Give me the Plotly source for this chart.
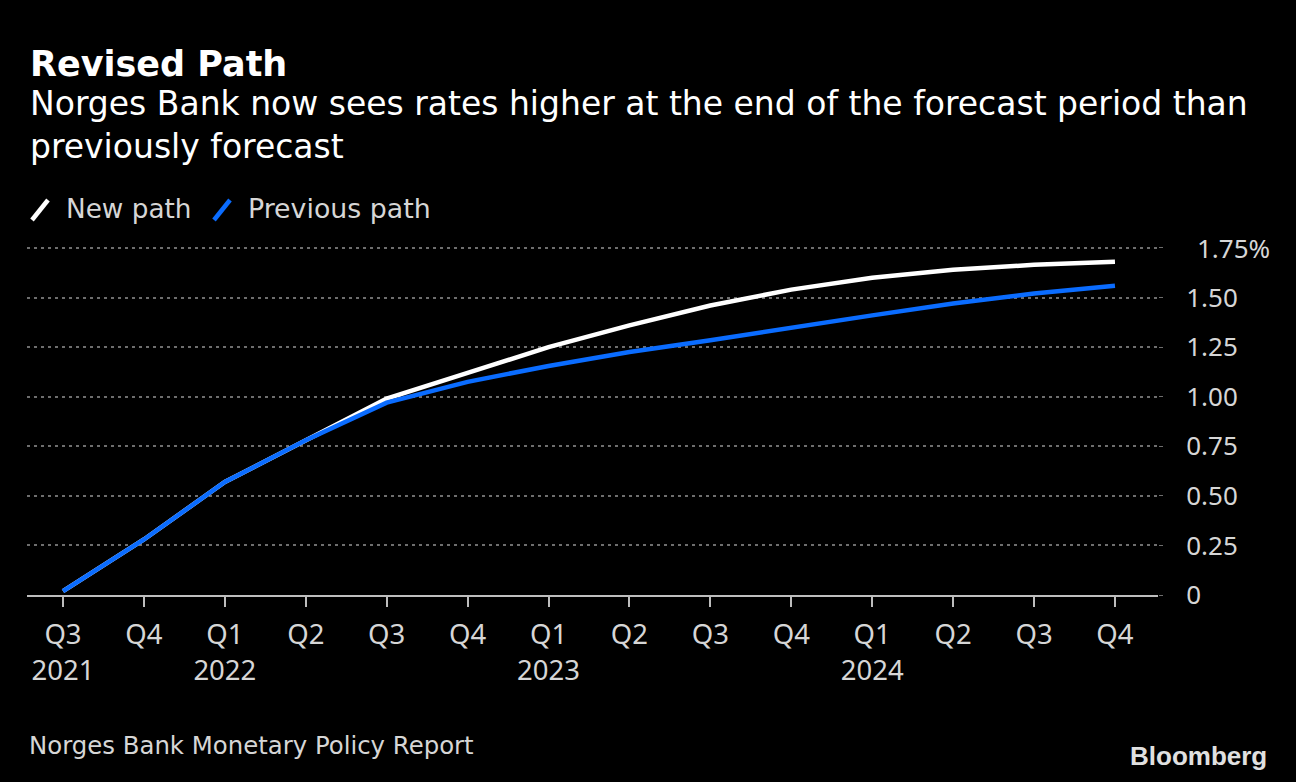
import plotly.graph_objects as go

quarters = ["Q3", "Q4", "Q1", "Q2", "Q3", "Q4", "Q1", "Q2", "Q3", "Q4", "Q1", "Q2", "Q3", "Q4"]
years = ["2021", "", "2022", "", "", "", "2023", "", "", "", "2024", "", "", ""]
new_path = [0.02, 0.28, 0.57, 0.78, 0.99, 1.12, 1.25, 1.36, 1.46, 1.54, 1.60, 1.64, 1.665, 1.68]
previous_path = [0.02, 0.28, 0.57, 0.78, 0.97, 1.075, 1.155, 1.225, 1.285, 1.35, 1.41, 1.47, 1.52, 1.56]
y_ticks = [0, 0.25, 0.5, 0.75, 1.0, 1.25, 1.5, 1.75]
y_ticktext = ["0", "0.25", "0.50", "0.75", "1.00", "1.25", "1.50", ""]

W, H = 1296, 782
L, R, T, B = 27, 1158, 240, 595
FONT = "Noto Sans"
TFONT = "DejaVu Sans"
WHITE = "#ffffff"
BLUE = "#0a6cff"
GREY_TXT = "#d6d6d6"

idx = list(range(len(quarters)))
ticktext = [q + ("<br>" + y if y else "<br> ") for q, y in zip(quarters, years)]

def px(x):
    return (x - L) / (R - L)

def py(y):
    return (B - y) / (B - T)

fig = go.Figure()
fig.add_trace(go.Scatter(x=idx, y=new_path, mode="lines", name="New path",
                         line=dict(color=WHITE, width=4.5), showlegend=False, hoverinfo="skip"))
fig.add_trace(go.Scatter(x=idx, y=previous_path, mode="lines", name="Previous path",
                         line=dict(color=BLUE, width=4.5), showlegend=False, hoverinfo="skip"))

fig.update_layout(
    width=W, height=H,
    margin=dict(l=L, r=W - R, t=T, b=H - B, pad=0),
    paper_bgcolor="#000000", plot_bgcolor="#000000",
    font=dict(family=FONT, color=GREY_TXT, size=26),
    xaxis=dict(range=[(L - 63) / 80.92, (R - 63) / 80.92], tickvals=idx, ticktext=ticktext,
               showgrid=False, zeroline=False, showline=True, linecolor="#bdbdbd", linewidth=2,
               ticks="outside", ticklen=10, tickwidth=2, tickcolor="#bdbdbd",
               ticklabelstandoff=4,
               tickfont=dict(family=FONT, size=27.5, color=GREY_TXT), fixedrange=True),
    yaxis=dict(range=[0, (B - T) / 198.3], side="right", tickvals=y_ticks, ticktext=y_ticktext,
               showgrid=True, gridcolor="#6e6e6e", gridwidth=2, griddash="3px,4px",
               zeroline=False, showline=False, ticks="outside", ticklen=4, tickcolor="#6e6e6e",
               ticklabelstandoff=18,
               tickfont=dict(family=FONT, size=26, color=GREY_TXT), fixedrange=True),
)

ann = []
ann.append(dict(text="<b>Revised Path</b>", x=px(28), y=py(64), xanchor="left", yanchor="middle",
                font=dict(family=TFONT, size=35, color=WHITE)))
ann.append(dict(text="Norges Bank now sees rates higher at the end of the forecast period than<br>previously forecast",
                x=px(28), y=py(125), xanchor="left", yanchor="middle", align="left",
                font=dict(family=TFONT, size=33, color=WHITE)))
ann.append(dict(text="New path", x=px(64), y=py(209), xanchor="left", yanchor="middle",
                font=dict(family=TFONT, size=26.3, color=GREY_TXT)))
ann.append(dict(text="Previous path", x=px(246), y=py(209), xanchor="left", yanchor="middle",
                font=dict(family=TFONT, size=26.8, color=GREY_TXT)))
ann.append(dict(text="1.75%", x=px(1195), y=1.75, yref="y", xanchor="left", yanchor="middle",
                font=dict(family=FONT, size=26, color=GREY_TXT)))
ann.append(dict(text="Norges Bank Monetary Policy Report", x=px(27), y=py(745), xanchor="left", yanchor="middle",
                font=dict(family=TFONT, size=24.4, color=GREY_TXT)))
ann.append(dict(text="<b>Bloomberg</b>", x=px(1269), y=py(756), xanchor="right", yanchor="middle",
                font=dict(family="Liberation Sans", size=26, color="#e0e0e0")))
for a in ann:
    a.setdefault("xref", "paper")
    a.setdefault("yref", "paper")
    a["showarrow"] = False
fig.update_layout(annotations=ann)

fig.add_shape(type="line", xref="paper", yref="paper", x0=px(32), y0=py(220), x1=px(48), y1=py(200),
              line=dict(color=WHITE, width=4.5))
fig.add_shape(type="line", xref="paper", yref="paper", x0=px(214), y0=py(220), x1=px(230), y1=py(200),
              line=dict(color=BLUE, width=4.5))

fig.write_html("out.html", config={"displayModeBar": False, "staticPlot": True},
               post_script="document.body.style.margin='0';document.body.style.background='#000';")
